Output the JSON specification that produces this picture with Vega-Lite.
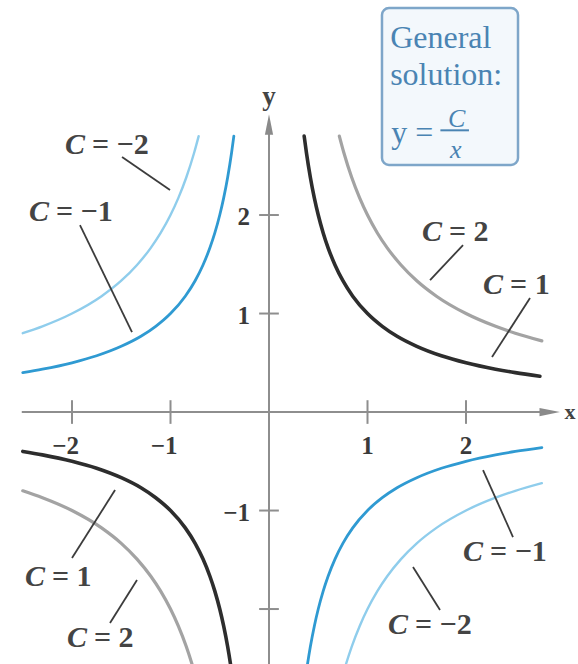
{
  "$schema": "https://vega.github.io/schema/vega-lite/v6.json",
  "width": 578,
  "height": 664,
  "autosize": "none",
  "padding": 0,
  "background": "white",
  "config": {"view": {"stroke": null}},
  "datasets": {
    "curves": [
      {"C": "1", "b": "1R", "x": 0.357, "y": 2.801}, {"C": "1", "b": "1R", "x": 0.38, "y": 2.632}, {"C": "1", "b": "1R", "x": 0.42, "y": 2.381}, {"C": "1", "b": "1R", "x": 0.46, "y": 2.174}, {"C": "1", "b": "1R", "x": 0.5, "y": 2.0}, {"C": "1", "b": "1R", "x": 0.55, "y": 1.818}, {"C": "1", "b": "1R", "x": 0.6, "y": 1.667}, {"C": "1", "b": "1R", "x": 0.67, "y": 1.493}, {"C": "1", "b": "1R", "x": 0.75, "y": 1.333}, {"C": "1", "b": "1R", "x": 0.85, "y": 1.176}, {"C": "1", "b": "1R", "x": 1.0, "y": 1.0}, {"C": "1", "b": "1R", "x": 1.15, "y": 0.87}, {"C": "1", "b": "1R", "x": 1.3, "y": 0.769}, {"C": "1", "b": "1R", "x": 1.5, "y": 0.667}, {"C": "1", "b": "1R", "x": 1.75, "y": 0.571}, {"C": "1", "b": "1R", "x": 2.0, "y": 0.5}, {"C": "1", "b": "1R", "x": 2.3, "y": 0.435}, {"C": "1", "b": "1R", "x": 2.5, "y": 0.4}, {"C": "1", "b": "1R", "x": 2.75, "y": 0.364},
      {"C": "1", "b": "1L", "x": -2.5, "y": -0.4}, {"C": "1", "b": "1L", "x": -2.3, "y": -0.435}, {"C": "1", "b": "1L", "x": -2.0, "y": -0.5}, {"C": "1", "b": "1L", "x": -1.75, "y": -0.571}, {"C": "1", "b": "1L", "x": -1.5, "y": -0.667}, {"C": "1", "b": "1L", "x": -1.3, "y": -0.769}, {"C": "1", "b": "1L", "x": -1.15, "y": -0.87}, {"C": "1", "b": "1L", "x": -1.0, "y": -1.0}, {"C": "1", "b": "1L", "x": -0.85, "y": -1.176}, {"C": "1", "b": "1L", "x": -0.75, "y": -1.333}, {"C": "1", "b": "1L", "x": -0.67, "y": -1.493}, {"C": "1", "b": "1L", "x": -0.6, "y": -1.667}, {"C": "1", "b": "1L", "x": -0.55, "y": -1.818}, {"C": "1", "b": "1L", "x": -0.5, "y": -2.0}, {"C": "1", "b": "1L", "x": -0.46, "y": -2.174}, {"C": "1", "b": "1L", "x": -0.42, "y": -2.381}, {"C": "1", "b": "1L", "x": -0.38, "y": -2.632}, {"C": "1", "b": "1L", "x": -0.357, "y": -2.801},
      {"C": "-1", "b": "-1L", "x": -2.5, "y": 0.4}, {"C": "-1", "b": "-1L", "x": -2.3, "y": 0.435}, {"C": "-1", "b": "-1L", "x": -2.0, "y": 0.5}, {"C": "-1", "b": "-1L", "x": -1.75, "y": 0.571}, {"C": "-1", "b": "-1L", "x": -1.5, "y": 0.667}, {"C": "-1", "b": "-1L", "x": -1.3, "y": 0.769}, {"C": "-1", "b": "-1L", "x": -1.15, "y": 0.87}, {"C": "-1", "b": "-1L", "x": -1.0, "y": 1.0}, {"C": "-1", "b": "-1L", "x": -0.85, "y": 1.176}, {"C": "-1", "b": "-1L", "x": -0.75, "y": 1.333}, {"C": "-1", "b": "-1L", "x": -0.67, "y": 1.493}, {"C": "-1", "b": "-1L", "x": -0.6, "y": 1.667}, {"C": "-1", "b": "-1L", "x": -0.55, "y": 1.818}, {"C": "-1", "b": "-1L", "x": -0.5, "y": 2.0}, {"C": "-1", "b": "-1L", "x": -0.46, "y": 2.174}, {"C": "-1", "b": "-1L", "x": -0.42, "y": 2.381}, {"C": "-1", "b": "-1L", "x": -0.38, "y": 2.632}, {"C": "-1", "b": "-1L", "x": -0.357, "y": 2.801},
      {"C": "-1", "b": "-1R", "x": 0.357, "y": -2.801}, {"C": "-1", "b": "-1R", "x": 0.38, "y": -2.632}, {"C": "-1", "b": "-1R", "x": 0.42, "y": -2.381}, {"C": "-1", "b": "-1R", "x": 0.46, "y": -2.174}, {"C": "-1", "b": "-1R", "x": 0.5, "y": -2.0}, {"C": "-1", "b": "-1R", "x": 0.55, "y": -1.818}, {"C": "-1", "b": "-1R", "x": 0.6, "y": -1.667}, {"C": "-1", "b": "-1R", "x": 0.67, "y": -1.493}, {"C": "-1", "b": "-1R", "x": 0.75, "y": -1.333}, {"C": "-1", "b": "-1R", "x": 0.85, "y": -1.176}, {"C": "-1", "b": "-1R", "x": 1.0, "y": -1.0}, {"C": "-1", "b": "-1R", "x": 1.15, "y": -0.87}, {"C": "-1", "b": "-1R", "x": 1.3, "y": -0.769}, {"C": "-1", "b": "-1R", "x": 1.5, "y": -0.667}, {"C": "-1", "b": "-1R", "x": 1.75, "y": -0.571}, {"C": "-1", "b": "-1R", "x": 2.0, "y": -0.5}, {"C": "-1", "b": "-1R", "x": 2.3, "y": -0.435}, {"C": "-1", "b": "-1R", "x": 2.5, "y": -0.4}, {"C": "-1", "b": "-1R", "x": 2.77, "y": -0.361},
      {"C": "2", "b": "2R", "x": 0.714, "y": 2.801}, {"C": "2", "b": "2R", "x": 0.76, "y": 2.632}, {"C": "2", "b": "2R", "x": 0.84, "y": 2.381}, {"C": "2", "b": "2R", "x": 0.92, "y": 2.174}, {"C": "2", "b": "2R", "x": 1.0, "y": 2.0}, {"C": "2", "b": "2R", "x": 1.1, "y": 1.818}, {"C": "2", "b": "2R", "x": 1.2, "y": 1.667}, {"C": "2", "b": "2R", "x": 1.34, "y": 1.493}, {"C": "2", "b": "2R", "x": 1.5, "y": 1.333}, {"C": "2", "b": "2R", "x": 1.7, "y": 1.176}, {"C": "2", "b": "2R", "x": 2.0, "y": 1.0}, {"C": "2", "b": "2R", "x": 2.3, "y": 0.87}, {"C": "2", "b": "2R", "x": 2.5, "y": 0.8}, {"C": "2", "b": "2R", "x": 2.77, "y": 0.722},
      {"C": "2", "b": "2L", "x": -2.5, "y": -0.8}, {"C": "2", "b": "2L", "x": -2.3, "y": -0.87}, {"C": "2", "b": "2L", "x": -2.0, "y": -1.0}, {"C": "2", "b": "2L", "x": -1.7, "y": -1.176}, {"C": "2", "b": "2L", "x": -1.5, "y": -1.333}, {"C": "2", "b": "2L", "x": -1.34, "y": -1.493}, {"C": "2", "b": "2L", "x": -1.2, "y": -1.667}, {"C": "2", "b": "2L", "x": -1.1, "y": -1.818}, {"C": "2", "b": "2L", "x": -1.0, "y": -2.0}, {"C": "2", "b": "2L", "x": -0.92, "y": -2.174}, {"C": "2", "b": "2L", "x": -0.84, "y": -2.381}, {"C": "2", "b": "2L", "x": -0.76, "y": -2.632}, {"C": "2", "b": "2L", "x": -0.714, "y": -2.801},
      {"C": "-2", "b": "-2L", "x": -2.5, "y": 0.8}, {"C": "-2", "b": "-2L", "x": -2.3, "y": 0.87}, {"C": "-2", "b": "-2L", "x": -2.0, "y": 1.0}, {"C": "-2", "b": "-2L", "x": -1.7, "y": 1.176}, {"C": "-2", "b": "-2L", "x": -1.5, "y": 1.333}, {"C": "-2", "b": "-2L", "x": -1.34, "y": 1.493}, {"C": "-2", "b": "-2L", "x": -1.2, "y": 1.667}, {"C": "-2", "b": "-2L", "x": -1.1, "y": 1.818}, {"C": "-2", "b": "-2L", "x": -1.0, "y": 2.0}, {"C": "-2", "b": "-2L", "x": -0.92, "y": 2.174}, {"C": "-2", "b": "-2L", "x": -0.84, "y": 2.381}, {"C": "-2", "b": "-2L", "x": -0.76, "y": 2.632}, {"C": "-2", "b": "-2L", "x": -0.714, "y": 2.801},
      {"C": "-2", "b": "-2R", "x": 0.714, "y": -2.801}, {"C": "-2", "b": "-2R", "x": 0.76, "y": -2.632}, {"C": "-2", "b": "-2R", "x": 0.84, "y": -2.381}, {"C": "-2", "b": "-2R", "x": 0.92, "y": -2.174}, {"C": "-2", "b": "-2R", "x": 1.0, "y": -2.0}, {"C": "-2", "b": "-2R", "x": 1.1, "y": -1.818}, {"C": "-2", "b": "-2R", "x": 1.2, "y": -1.667}, {"C": "-2", "b": "-2R", "x": 1.34, "y": -1.493}, {"C": "-2", "b": "-2R", "x": 1.5, "y": -1.333}, {"C": "-2", "b": "-2R", "x": 1.7, "y": -1.176}, {"C": "-2", "b": "-2R", "x": 2.0, "y": -1.0}, {"C": "-2", "b": "-2R", "x": 2.3, "y": -0.87}, {"C": "-2", "b": "-2R", "x": 2.5, "y": -0.8}, {"C": "-2", "b": "-2R", "x": 2.77, "y": -0.722}
    ],
    "axes": [
      {"x": -2.51, "x2": 2.86, "y": 0, "y2": 0},
      {"x": 0, "x2": 0, "y": -2.7, "y2": 2.93}
    ],
    "arrows": [
      {"x": 2.85, "y": 0, "dir": "right"},
      {"x": 0, "y": 2.92, "dir": "up"}
    ],
    "ticks": [
      {"x": -2, "x2": -2, "y": -0.12, "y2": 0.12},
      {"x": -1, "x2": -1, "y": -0.12, "y2": 0.12},
      {"x": 1, "x2": 1, "y": -0.12, "y2": 0.12},
      {"x": 2, "x2": 2, "y": -0.12, "y2": 0.12},
      {"x": -0.1, "x2": 0.1, "y": 2, "y2": 2},
      {"x": -0.1, "x2": 0.1, "y": 1, "y2": 1},
      {"x": -0.1, "x2": 0.1, "y": -1, "y2": -1},
      {"x": -0.1, "x2": 0.1, "y": -2, "y2": -2}
    ],
    "xlabels": [
      {"v": -2, "t": "−2"}, {"v": -1, "t": "−1"}, {"v": 1, "t": "1"}, {"v": 2, "t": "2"}
    ],
    "ylabels": [
      {"v": 2, "t": "2"}, {"v": 1, "t": "1"}, {"v": -1, "t": "−1"}
    ],
    "axisnames": [
      {"x": 0, "y": 3.2, "t": "y", "fs": 27},
      {"x": 3.055, "y": 0, "t": "x", "fs": 22}
    ],
    "leaders": [
      {"x": -1.492, "y": 2.589, "x2": -1.005, "y2": 2.254},
      {"x": -1.919, "y": 1.898, "x2": -1.391, "y2": 0.812},
      {"x": 1.97, "y": 1.695, "x2": 1.635, "y2": 1.34},
      {"x": 2.65, "y": 1.157, "x2": 2.264, "y2": 0.558},
      {"x": -2.0, "y": -1.482, "x2": -1.563, "y2": -0.792},
      {"x": -1.614, "y": -2.142, "x2": -1.34, "y2": -1.706},
      {"x": 2.173, "y": -0.589, "x2": 2.477, "y2": -1.269},
      {"x": 1.462, "y": -1.574, "x2": 1.736, "y2": -2.01}
    ],
    "labels": [
      {"x": -2.071, "y": 2.711, "rest": "= −2"},
      {"x": -2.437, "y": 2.03, "rest": "= −1"},
      {"x": 1.553, "y": 1.827, "rest": "= 2"},
      {"x": 2.173, "y": 1.289, "rest": "= 1"},
      {"x": -2.477, "y": -1.675, "rest": "= 1"},
      {"x": -2.051, "y": -2.294, "rest": "= 2"},
      {"x": 1.97, "y": -1.421, "rest": "= −1"},
      {"x": 1.208, "y": -2.162, "rest": "= −2"}
    ],
    "box": [
      {"x": 1.147, "x2": 2.528, "y": 4.102, "y2": 2.508}
    ],
    "boxtext": [
      {"x": 1.23, "y": 3.8, "t": "General"},
      {"x": 1.23, "y": 3.42, "t": "solution:"},
      {"x": 1.24, "y": 2.83, "t": "y ="}
    ],
    "fraction": [
      {"x": 1.905, "y": 2.975, "t": "C"},
      {"x": 1.895, "y": 2.66, "t": "x"}
    ],
    "fracbar": [
      {"x": 1.74, "x2": 2.03, "y": 2.86, "y2": 2.86}
    ]
  },
  "layer": [
    {
      "data": {"name": "box"},
      "mark": {"type": "rect", "fill": "#f3f8fc", "stroke": "#7ea6c9", "strokeWidth": 2.5, "cornerRadius": 7},
      "encoding": {
        "x": {"field": "x", "type": "quantitative", "scale": {"domain": [-2.731, 3.137], "nice": false, "zero": false}, "axis": null},
        "x2": {"field": "x2"},
        "y": {"field": "y", "type": "quantitative", "scale": {"domain": [-2.558, 4.183], "nice": false, "zero": false}, "axis": null},
        "y2": {"field": "y2"}
      }
    },
    {
      "data": {"name": "boxtext"},
      "mark": {"type": "text", "align": "left", "baseline": "middle", "font": "Liberation Serif", "fontSize": 32, "color": "#4a84b3"},
      "encoding": {
        "x": {"field": "x", "type": "quantitative"},
        "y": {"field": "y", "type": "quantitative"},
        "text": {"field": "t"}
      }
    },
    {
      "data": {"name": "fraction"},
      "mark": {"type": "text", "align": "center", "baseline": "middle", "font": "Liberation Serif", "fontStyle": "italic", "fontSize": 26, "color": "#4a84b3"},
      "encoding": {
        "x": {"field": "x", "type": "quantitative"},
        "y": {"field": "y", "type": "quantitative"},
        "text": {"field": "t"}
      }
    },
    {
      "data": {"name": "fracbar"},
      "mark": {"type": "rule", "color": "#4a84b3", "strokeWidth": 2},
      "encoding": {
        "x": {"field": "x", "type": "quantitative"},
        "x2": {"field": "x2"},
        "y": {"field": "y", "type": "quantitative"},
        "y2": {"field": "y2"}
      }
    },
    {
      "data": {"name": "axes"},
      "mark": {"type": "rule", "color": "#8e8e8e", "strokeWidth": 2},
      "encoding": {
        "x": {"field": "x", "type": "quantitative"},
        "x2": {"field": "x2"},
        "y": {"field": "y", "type": "quantitative"},
        "y2": {"field": "y2"}
      }
    },
    {
      "data": {"name": "ticks"},
      "mark": {"type": "rule", "color": "#8e8e8e", "strokeWidth": 2},
      "encoding": {
        "x": {"field": "x", "type": "quantitative"},
        "x2": {"field": "x2"},
        "y": {"field": "y", "type": "quantitative"},
        "y2": {"field": "y2"}
      }
    },
    {
      "data": {"name": "arrows"},
      "transform": [{"filter": "datum.dir === 'right'"}],
      "mark": {"type": "point", "shape": "M-1,-0.4L1,0L-1,0.4Z", "size": 420, "filled": true, "color": "#8a8a8a", "opacity": 1},
      "encoding": {
        "x": {"field": "x", "type": "quantitative"},
        "y": {"field": "y", "type": "quantitative"}
      }
    },
    {
      "data": {"name": "arrows"},
      "transform": [{"filter": "datum.dir === 'up'"}],
      "mark": {"type": "point", "shape": "M-0.4,1L0,-1L0.4,1Z", "size": 420, "filled": true, "color": "#8a8a8a", "opacity": 1},
      "encoding": {
        "x": {"field": "x", "type": "quantitative"},
        "y": {"field": "y", "type": "quantitative"}
      }
    },
    {
      "data": {"name": "curves"},
      "mark": {"type": "line", "interpolate": "monotone", "clip": true, "strokeCap": "round"},
      "encoding": {
        "x": {"field": "x", "type": "quantitative"},
        "y": {"field": "y", "type": "quantitative"},
        "detail": {"field": "b"},
        "color": {"field": "C", "type": "nominal", "scale": {"domain": ["1", "2", "-1", "-2"], "range": ["#2d2d2d", "#a3a3a3", "#2f9ad2", "#8fcdec"]}, "legend": null},
        "strokeWidth": {"field": "C", "type": "nominal", "scale": {"domain": ["1", "2", "-1", "-2"], "range": [3.6, 2.4, 3.6, 2.4]}, "legend": null}
      }
    },
    {
      "data": {"name": "leaders"},
      "mark": {"type": "rule", "color": "#3c3c3c", "strokeWidth": 1.8},
      "encoding": {
        "x": {"field": "x", "type": "quantitative"},
        "x2": {"field": "x2"},
        "y": {"field": "y", "type": "quantitative"},
        "y2": {"field": "y2"}
      }
    },
    {
      "data": {"name": "labels"},
      "mark": {"type": "text", "align": "left", "baseline": "middle", "font": "Liberation Serif", "fontStyle": "italic", "fontWeight": "bold", "fontSize": 30, "color": "#444444"},
      "encoding": {
        "x": {"field": "x", "type": "quantitative"},
        "y": {"field": "y", "type": "quantitative"},
        "text": {"value": "C"}
      }
    },
    {
      "data": {"name": "labels"},
      "mark": {"type": "text", "align": "left", "baseline": "middle", "font": "Liberation Serif", "fontWeight": "bold", "fontSize": 30, "color": "#444444", "dx": 27},
      "encoding": {
        "x": {"field": "x", "type": "quantitative"},
        "y": {"field": "y", "type": "quantitative"},
        "text": {"field": "rest"}
      }
    },
    {
      "data": {"name": "xlabels"},
      "transform": [{"filter": "datum.v < 0"}],
      "mark": {"type": "text", "align": "right", "baseline": "middle", "font": "Liberation Serif", "fontWeight": "bold", "fontSize": 25, "color": "#3a3a3a", "dx": 7, "dy": 34},
      "encoding": {
        "x": {"field": "v", "type": "quantitative"},
        "y": {"datum": 0, "type": "quantitative"},
        "text": {"field": "t"}
      }
    },
    {
      "data": {"name": "xlabels"},
      "transform": [{"filter": "datum.v > 0"}],
      "mark": {"type": "text", "align": "center", "baseline": "middle", "font": "Liberation Serif", "fontWeight": "bold", "fontSize": 25, "color": "#3a3a3a", "dy": 34},
      "encoding": {
        "x": {"field": "v", "type": "quantitative"},
        "y": {"datum": 0, "type": "quantitative"},
        "text": {"field": "t"}
      }
    },
    {
      "data": {"name": "ylabels"},
      "mark": {"type": "text", "align": "right", "baseline": "middle", "font": "Liberation Serif", "fontWeight": "bold", "fontSize": 25, "color": "#3a3a3a", "dx": -19, "dy": 2},
      "encoding": {
        "x": {"datum": 0, "type": "quantitative"},
        "y": {"field": "v", "type": "quantitative"},
        "text": {"field": "t"}
      }
    },
    {
      "data": {"name": "axisnames"},
      "mark": {"type": "text", "align": "center", "baseline": "middle", "font": "Liberation Serif", "fontWeight": "bold", "color": "#444444"},
      "encoding": {
        "x": {"field": "x", "type": "quantitative"},
        "y": {"field": "y", "type": "quantitative"},
        "text": {"field": "t"},
        "size": {"field": "fs", "type": "quantitative", "scale": null}
      }
    }
  ]
}
